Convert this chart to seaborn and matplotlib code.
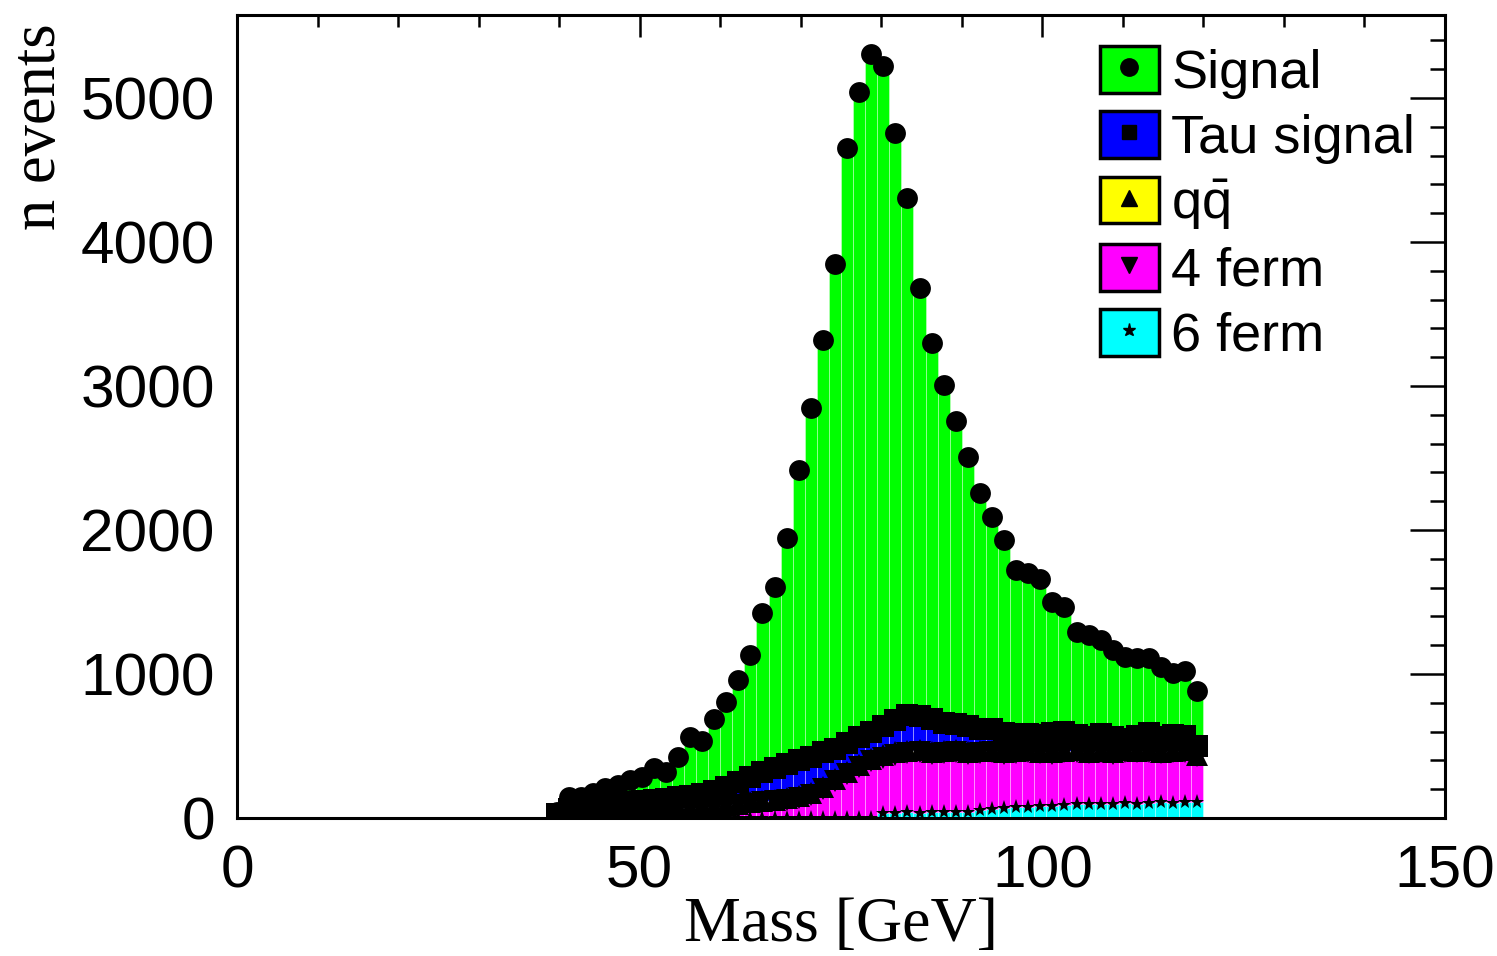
import numpy as np
import pandas as pd
import matplotlib
matplotlib.use("Agg")
import matplotlib.pyplot as plt
import seaborn as sns
from matplotlib.patches import Patch
from matplotlib.lines import Line2D
from matplotlib.ticker import MultipleLocator

# ---------------- data (events per 1.5 GeV bin, 39-120 GeV) ----------------
mass_range = (39.0, 120.0)
bin_width = 1.5

processes = ["Signal", "Tau signal", "qq", "4 ferm", "6 ferm"]
legend_labels = ["Signal", "Tau signal", r"$\mathregular{q\bar{q}}$", "4 ferm", "6 ferm"]

signal = [15, 88, 78, 91, 116, 129, 154, 167, 220, 187,
          281, 405, 372, 500, 593, 708, 847, 1104, 1259, 1569,
          2017, 2422, 2864, 3365, 4130, 4480, 4710, 4582, 4079, 3593,
          2968, 2606, 2347, 2109, 1869, 1635, 1478, 1341, 1137, 1124,
          1082, 912, 868, 719, 711, 656, 607, 570, 539, 519,
          491, 430, 453, 384]
tau_signal = [3, 15, 20, 29, 34, 44, 53, 58, 62, 72,
              77, 87, 91, 106, 125, 150, 175, 199, 219, 238,
              248, 253, 242, 212, 201, 191, 185, 205, 225, 250,
              240, 231, 196, 177, 182, 157, 148, 133, 123, 108,
              114, 134, 134, 104, 100, 115, 105, 80, 105, 120,
              101, 111, 101, 62]
qqbar = [2, 5, 5, 6, 6, 6, 7, 7, 8, 8,
         8, 8, 9, 9, 10, 10, 10, 11, 11, 12,
         12, 12, 13, 13, 14, 14, 15, 15, 15, 15,
         15, 14, 14, 13, 13, 13, 12, 12, 12, 12,
         11, 11, 11, 11, 10, 10, 10, 10, 10, 10,
         9, 9, 9, 8]
ferm4 = [20, 40, 45, 45, 50, 50, 50, 55, 55, 55,
         60, 57, 62, 67, 77, 87, 97, 107, 112, 122,
         137, 157, 197, 252, 302, 352, 392, 385, 402, 410,
         417, 405, 408, 420, 400, 395, 390, 375, 375, 382,
         370, 360, 365, 365, 350, 360, 345, 355, 355, 355,
         340, 350, 350, 318]
ferm6 = [0, 0, 0, 0, 0, 0, 0, 0, 0, 0,
         0, 3, 3, 3, 3, 3, 3, 3, 3, 3,
         3, 3, 3, 3, 3, 3, 3, 35, 38, 40,
         38, 40, 42, 40, 45, 55, 65, 70, 75, 78,
         80, 85, 90, 95, 100, 95, 100, 105, 100, 105,
         110, 105, 110, 112]

colors = {"Signal": "#00ff00", "Tau signal": "#0000ff", "qq": "#ffff00",
          "4 ferm": "#ff00ff", "6 ferm": "#00ffff"}
markers = {"Signal": ("o", 15.0), "Tau signal": ("s", 16.0), "qq": ("^", 16.5),
           "4 ferm": ("v", 16.5), "6 ferm": ("*", 11.0)}
legend_marker_size = {"Signal": 12.5, "Tau signal": 10.5, "qq": 11.0,
                      "4 ferm": 11.0, "6 ferm": 9.5}

# ---------------- build long table ----------------
n_bins = len(signal)
centers = mass_range[0] + bin_width * (np.arange(n_bins) + 0.5)
series = {"Signal": signal, "Tau signal": tau_signal, "qq": qqbar,
          "4 ferm": ferm4, "6 ferm": ferm6}
df = pd.concat([pd.DataFrame({"mass": centers, "count": np.asarray(series[p], float),
                              "process": p})
                for p in processes], ignore_index=True)

# ---------------- style ----------------
sns.set_style("white")
plt.rcParams["font.family"] = ["Liberation Sans", "DejaVu Sans"]
plt.rcParams["mathtext.fontset"] = "custom"
plt.rcParams["mathtext.rm"] = "Liberation Sans"
plt.rcParams["text.color"] = "black"
plt.rcParams["axes.labelcolor"] = "black"
plt.rcParams["xtick.color"] = "black"
plt.rcParams["ytick.color"] = "black"

fig = plt.figure(figsize=(14.97, 9.56), dpi=100)
ax = fig.add_axes([237 / 1497, 1 - 818 / 956, (1445 - 237) / 1497, (818 - 15) / 956])

sns.histplot(data=df, x="mass", weights="count", hue="process",
             hue_order=processes, multiple="stack", binwidth=bin_width,
             binrange=mass_range, palette=colors, alpha=1, linewidth=0.7,
             edgecolor=(1, 1, 1, 0.35), legend=False, ax=ax)

# markers at the top of each stacked component
stack_order = processes[::-1]  # bottom -> top
cum = np.zeros(n_bins)
for i, p in enumerate(stack_order):
    vals = np.asarray(series[p], dtype=float)
    cum = cum + vals
    m, ms = markers[p]
    mask = vals > 0
    ax.plot(centers[mask], cum[mask], linestyle="none", marker=m,
            markersize=ms, color="black", markeredgewidth=0, zorder=5 + i)

ax.set_xlim(0, 150)
ax.set_ylim(0, 5576)
ax.xaxis.set_major_locator(MultipleLocator(50))
ax.xaxis.set_minor_locator(MultipleLocator(10))
ax.yaxis.set_major_locator(MultipleLocator(1000))
ax.yaxis.set_minor_locator(MultipleLocator(200))

for s in ax.spines.values():
    s.set_linewidth(2.2)
    s.set_color("black")
    s.set_visible(True)
    s.set_zorder(20)

ax.tick_params(axis="both", which="both", direction="in", top=True, right=True,
               width=1.8, colors="black")
ax.tick_params(axis="x", which="major", length=16, pad=19, labelsize=43.5)
ax.tick_params(axis="x", which="minor", length=8.5)
ax.tick_params(axis="y", which="major", length=25, pad=16, labelsize=43.5)
ax.tick_params(axis="y", which="minor", length=11)

ax.set_xlabel("Mass [GeV]", fontfamily="Liberation Serif", fontsize=46, color="black")
ax.xaxis.set_label_coords(0.5, -0.099)
ax.set_ylabel("n events", fontfamily="Liberation Serif", fontsize=45, loc="top",
              color="black")
ax.yaxis.set_label_coords(-0.139, 0.99)

# legend: colored box with black marker
handles = []
for p in processes:
    m, _ = markers[p]
    patch = Patch(facecolor=colors[p], edgecolor="black", linewidth=2.5)
    mk = Line2D([], [], linestyle="none", marker=m, color="black",
                markersize=legend_marker_size[p])
    handles.append((patch, mk))
ax.legend(handles, legend_labels, loc="upper left",
          bbox_to_anchor=(0.714, 0.961), frameon=False, fontsize=39,
          handlelength=1.1, handleheight=0.95, handletextpad=0.22,
          labelspacing=0.225, borderpad=0, borderaxespad=0)

fig.savefig("out.png", dpi=100)
